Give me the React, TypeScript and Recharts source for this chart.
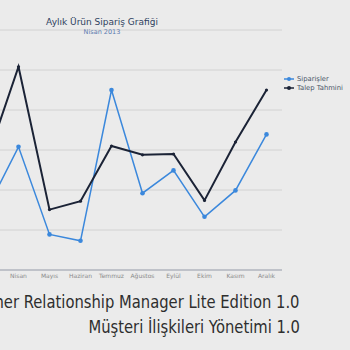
import { CartesianGrid, Line, LineChart, XAxis, YAxis } from 'recharts';

const months = ['Mart', 'Nisan', 'Mayıs', 'Haziran', 'Temmuz', 'Ağustos', 'Eylül', 'Ekim', 'Kasım', 'Aralık'];
const siparisler = [15.5, 30.8, 8.9, 7.3, 45, 19.2, 24.9, 13.3, 19.9, 33.9];
const talepTahmini = [28, 50.8, 15.1, 17.2, 31, 28.8, 29, 17.4, 32, 45];
const yTicks = [0, 10, 20, 30, 40, 50, 60];

const data = months.map((m, i) => ({ month: m, siparisler: siparisler[i], talep: talepTahmini[i] }));

const BLUE = '#3b88dc';
const DARK = '#1b2336';

function LegendBox() {
  const row = (color: string, label: string) => (
    <div style={{ display: 'flex', alignItems: 'center', height: 9 }}>
      <svg width={10} height={6} style={{ marginRight: 3 }}>
        <line x1={0} y1={3} x2={10} y2={3} stroke={color} strokeWidth={1.5} />
        <circle cx={5} cy={3} r={2} fill={color} />
      </svg>
      <span>{label}</span>
    </div>
  );
  return (
    <div style={{ position: 'absolute', left: 284, top: 74, fontSize: 6.8, color: '#4a5568', fontFamily: 'DejaVu Sans, sans-serif' }}>
      {row(BLUE, 'Siparişler')}
      {row(DARK, 'Talep Tahmini')}
    </div>
  );
}

const footer: React.CSSProperties = {
  position: 'absolute',
  right: 50,
  whiteSpace: 'nowrap',
  fontFamily: 'DejaVu Sans, sans-serif',
  fontSize: 18,
  color: '#2e2e2e',
  transform: 'scaleX(0.82)',
  transformOrigin: 'right center',
};

export default function App() {
  return (
    <div style={{ position: 'absolute', left: 0, top: 0, width: 350, height: 350, overflow: 'hidden', background: '#ebebeb' }}>
      <div style={{ position: 'absolute', left: -28, top: 0 }}>
        <LineChart width={378} height={290} data={data} margin={{ top: 30, right: 68, left: 0, bottom: 0 }}>
          <CartesianGrid vertical={false} stroke="#d2d2d2" />
          <XAxis
            dataKey="month"
            padding={{ left: 15.5, right: 15.5 }}
            tickLine={false}
            tickSize={0}
            tickMargin={4}
            axisLine={{ stroke: '#b4b9c2', strokeWidth: 1.5 }}
            tick={{ fontSize: 6, fill: '#8a8a8a', fontFamily: 'DejaVu Sans, sans-serif' }}
            interval={0}
            height={20}
          />
          <YAxis hide domain={[0, 60]} ticks={yTicks} />
          <Line
            dataKey="siparisler"
            stroke={BLUE}
            strokeWidth={1.5}
            dot={{ r: 2.3, fill: BLUE, stroke: BLUE, strokeWidth: 0 }}
            isAnimationActive={false}
          />
          <Line
            dataKey="talep"
            stroke={DARK}
            strokeWidth={2}
            dot={{ r: 1.6, fill: DARK, stroke: DARK, strokeWidth: 0 }}
            isAnimationActive={false}
          />
        </LineChart>
      </div>
      <div style={{ position: 'absolute', left: 0, width: 204, top: 17, textAlign: 'center', fontFamily: 'DejaVu Sans, sans-serif', fontSize: 9, color: '#2e3f60' }}>
        Aylık Ürün Sipariş Grafiği
      </div>
      <div style={{ position: 'absolute', left: 0, width: 204, top: 28, textAlign: 'center', fontFamily: 'DejaVu Sans, sans-serif', fontSize: 6.5, color: '#5b7bb0' }}>
        Nisan 2013
      </div>
      <LegendBox />
      <div style={{ ...footer, top: 291 }}>Customer Relationship Manager Lite Edition 1.0</div>
      <div style={{ ...footer, top: 316 }}>Müşteri İlişkileri Yönetimi 1.0</div>
    </div>
  );
}
